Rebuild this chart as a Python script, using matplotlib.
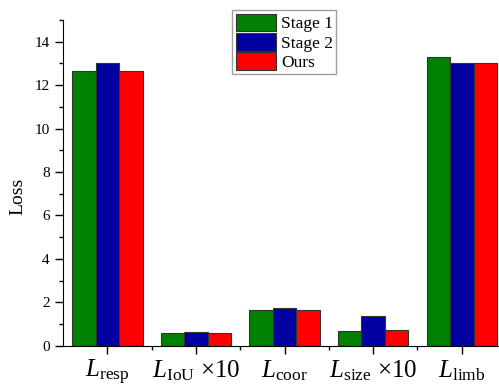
import numpy as np
import matplotlib.pyplot as plt
from matplotlib.ticker import MultipleLocator, FixedLocator

plt.rcParams['font.family'] = ['Liberation Serif', 'DejaVu Serif']
plt.rcParams['mathtext.fontset'] = 'custom'
plt.rcParams['mathtext.rm'] = 'Liberation Serif'
plt.rcParams['mathtext.it'] = 'Liberation Serif:italic'

categories = [r'$L_{\rm resp}$', r'$L_{\rm IoU}$ $\times$10', r'$L_{\rm coor}$',
              r'$L_{\rm size}$ $\times$10', r'$L_{\rm limb}$']
stage1 = [12.66, 0.60, 1.66, 0.69, 13.29]
stage2 = [13.03, 0.61, 1.75, 1.35, 13.00]
ours = [12.66, 0.60, 1.66, 0.72, 13.00]

fig = plt.figure(figsize=(4.99, 3.87), dpi=100)
ax = fig.add_axes([63/499, 1-345.7/387, (499-63)/499, (345.7-20)/387])

x = np.arange(len(categories))
w = 0.265
kw = dict(edgecolor='#333333', linewidth=0.8)
ax.bar(x - w, stage1, w, color='#008000', label='Stage 1', **kw)
ax.bar(x, stage2, w, color='#0000A0', label='Stage 2', **kw)
ax.bar(x + w, ours, w, color='#FF0000', label='Ours', **kw)

ax.set_xlim(-0.5, 4.42)
ax.set_ylim(0, 15)
ax.set_xticks(x)
ax.set_xticklabels(categories)
ax.xaxis.set_minor_locator(FixedLocator(x[:-1] + 0.5))
ax.set_yticks(np.arange(0, 16, 2))
ax.set_yticklabels([str(v) for v in range(0, 16, 2)])
ax.yaxis.set_minor_locator(MultipleLocator(1))
ax.tick_params(axis='both', which='major', direction='out', length=6, width=1)
ax.tick_params(axis='both', which='minor', direction='out', length=3, width=1)
ax.tick_params(axis='y', labelsize=11)
ax.tick_params(axis='x', labelsize=18, pad=3)

for s in ['top', 'right']:
    ax.spines[s].set_visible(False)

ax.set_ylabel('Loss', fontsize=14)
ax.yaxis.set_label_coords(-0.083, 0.46)

leg = ax.legend(loc='upper left', bbox_to_anchor=(0.388, 1.03), fontsize=12.5,
                frameon=True, fancybox=False, edgecolor='#888888',
                handlelength=2.3, handleheight=1.2, labelspacing=0.02,
                handletextpad=0.3, borderpad=0.2, borderaxespad=0)
leg.get_frame().set_linewidth(1.0)

fig.savefig('out.png', dpi=100)
